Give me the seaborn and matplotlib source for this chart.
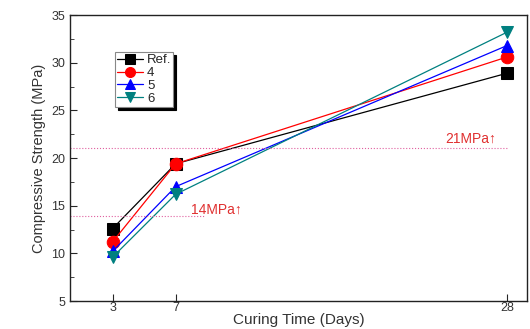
import numpy as np
import pandas as pd
import seaborn as sns
import matplotlib.pyplot as plt
from matplotlib.ticker import MultipleLocator

# data
days = [3, 7, 28]
ref = [12.6, 19.4, 28.9]
mix4 = [11.2, 19.4, 30.6]
mix5 = [10.2, 17.0, 31.8]
mix6 = [9.6, 16.2, 33.2]
labels = ['Ref.', '4', '5', '6']
colors = ['black', 'red', 'blue', '#008080']
markers = ['s', 'o', '^', 'v']
limit_21 = 21.1
limit_14 = 13.9

sns.set_style('ticks')
plt.rcParams['font.family'] = ['Liberation Sans', 'DejaVu Sans']

fig = plt.figure(figsize=(5.3, 3.29), dpi=100)
ax = fig.add_axes([0.132, 0.085, 0.863, 0.869])

series = [ref, mix4, mix5, mix6]
for vals, lab, col, mk in zip(series, labels, colors, markers):
    df = pd.DataFrame({'day': days, 'strength': vals})
    sns.lineplot(data=df, x='day', y='strength', ax=ax, color=col, marker=mk,
                 markersize=9, markeredgecolor=col, linewidth=0.9, label=lab)

# reference lines
ax.plot([0.3, 8.8], [limit_14, limit_14], color='#e060a0', linestyle=':', linewidth=0.8)
ax.plot([0.3, 28.0], [limit_21, limit_21], color='#e060a0', linestyle=':', linewidth=0.8)
ax.text(8.0, 14.2, '14MPa\u2191', color='#e03030', fontsize=10)
ax.text(24.1, 21.6, '21MPa\u2191', color='#e03030', fontsize=10)

ax.set_xlim(0.3, 29.3)
ax.set_ylim(5, 35)
ax.set_xticks(days)
ax.yaxis.set_major_locator(MultipleLocator(5))
ax.yaxis.set_minor_locator(MultipleLocator(2.5))
ax.tick_params(direction='in', which='both', labelsize=9, labelcolor='#333333')
ax.tick_params(which='major', length=5)
ax.tick_params(which='minor', length=3)
ax.tick_params(axis='x', pad=1)
ax.set_xlabel('Curing Time (Days)', fontsize=11, color='#333333', labelpad=-1)
ax.set_ylabel('Compressive Strength (MPa)', fontsize=10.5, color='#333333', labelpad=4)
for s in ax.spines.values():
    s.set_linewidth(1.0)
    s.set_color('#222222')

leg = ax.legend(loc='upper left', bbox_to_anchor=(0.098, 0.871), fontsize=9.5,
                frameon=True, fancybox=False, edgecolor='#888888',
                shadow={'color': 'black', 'alpha': 1.0}, handlelength=2.0,
                handletextpad=0.3, borderpad=0.15, labelspacing=0.05,
                markerscale=0.8, borderaxespad=0)
leg.get_frame().set_linewidth(0.8)

fig.savefig('out.png', dpi=100)
